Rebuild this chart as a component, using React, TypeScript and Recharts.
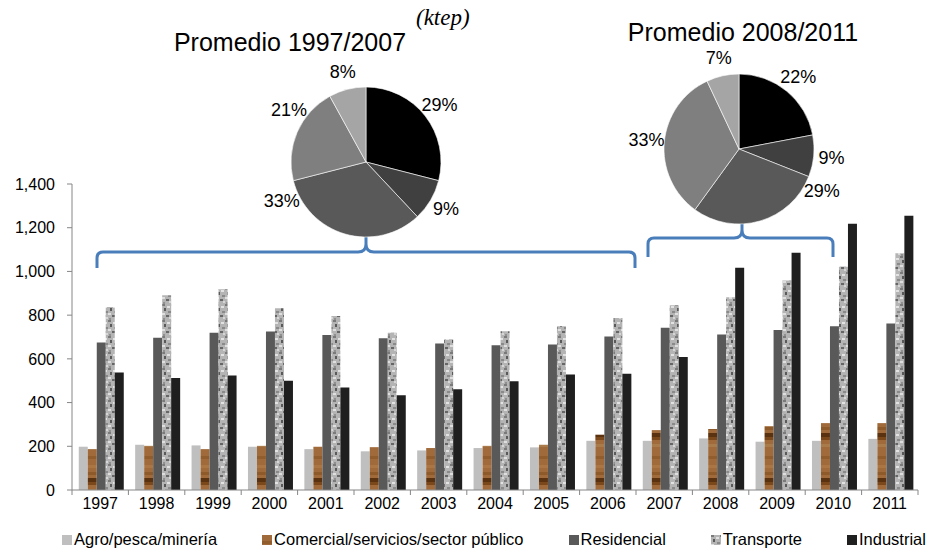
import React from "react"
import { BarChart, Bar, XAxis, YAxis, PieChart, Pie, Cell } from "recharts"

const years = ["1997", "1998", "1999", "2000", "2001", "2002", "2003", "2004", "2005", "2006", "2007", "2008", "2009", "2010", "2011"]
const agro = [198, 207, 204, 198, 187, 177, 181, 192, 195, 225, 225, 236, 221, 225, 234]
const comercial = [187, 202, 187, 202, 198, 196, 192, 202, 207, 253, 274, 279, 292, 306, 306]
const residencial = [675, 697, 719, 725, 709, 694, 670, 662, 666, 702, 742, 711, 732, 749, 762]
const transporte = [837, 891, 918, 831, 796, 719, 690, 726, 749, 787, 845, 882, 959, 1023, 1083]
const industrial = [538, 512, 524, 500, 469, 434, 461, 497, 528, 532, 609, 1017, 1086, 1218, 1255]
const yTicks = [0, 200, 400, 600, 800, 1000, 1200, 1400]

const pieSectors = ["Industrial", "Comercial", "Residencial", "Transporte", "Agro"]
const pie1Shares = [29, 9, 33, 21, 8]
const pie2Shares = [22, 9, 29, 33, 7]

const legendNames = ["Agro/pesca/minería", "Comercial/servicios/sector público", "Residencial", "Transporte", "Industrial"]

const data = years.map((year, i) => ({
  year,
  agro: agro[i],
  comercial: comercial[i],
  residencial: residencial[i],
  transporte: transporte[i],
  industrial: industrial[i],
}))

const FONT = "'Liberation Sans', Arial, sans-serif"
const W = 935
const H = 552
const LEFT = 72
const RIGHT = 17
const PLOT_BOTTOM = 490
const BAND = (W - LEFT - RIGHT) / years.length
const AXIS = "#868686"

const barFills = ["#bfbfbf", "url(#wood)", "#595959", "url(#marble)", "#1f1f1f"]
const pieColors: Record<string, string> = {
  Industrial: "#000000",
  Comercial: "#404040",
  Residencial: "#595959",
  Transporte: "#7f7f7f",
  Agro: "#a5a5a5",
}

const Patterns = () => (
  <svg width={0} height={0} style={{ position: "absolute" }}>
    <defs>
      <pattern id="wood" patternUnits="userSpaceOnUse" width={10} height={45}>
        <rect width={10} height={45} fill="#a06a3a" />
        <rect y={6} width={10} height={3} fill="#915d2d" />
        <rect y={15} width={10} height={3} fill="#ac7644" />
        <rect y={22} width={10} height={3} fill="#8e5a2a" />
        <rect y={28} width={10} height={4} fill="#5a3210" />
        <rect y={32} width={10} height={3} fill="#7b481c" />
        <rect y={39} width={10} height={3} fill="#a97a4a" />
      </pattern>
      <pattern id="marble" patternUnits="userSpaceOnUse" width={9} height={16}>
        <rect width={9} height={16} fill="#b4b4b4" />
        <rect x={0} y={0} width={3} height={2} fill="#7a7a7a" />
        <rect x={5} y={2} width={3} height={2} fill="#e2e2e2" />
        <rect x={2} y={4} width={2} height={3} fill="#5a5a5a" />
        <rect x={6} y={7} width={3} height={2} fill="#8a8a8a" />
        <rect x={0} y={9} width={3} height={2} fill="#dedede" />
        <rect x={4} y={11} width={3} height={2} fill="#666666" />
        <rect x={7} y={13} width={2} height={2} fill="#d6d6d6" />
        <rect x={1} y={14} width={2} height={2} fill="#909090" />
      </pattern>
    </defs>
  </svg>
)

const XTick = (props: any) => {
  const { x, y, payload, index } = props
  const last = index === years.length - 1
  return (
    <g>
      <line x1={x - BAND / 2} x2={x - BAND / 2} y1={PLOT_BOTTOM} y2={PLOT_BOTTOM + 5} stroke={AXIS} />
      {last && <line x1={x + BAND / 2} x2={x + BAND / 2} y1={PLOT_BOTTOM} y2={PLOT_BOTTOM + 5} stroke={AXIS} />}
      <text x={x} y={y} dy="0.71em" textAnchor="middle" fontSize={16} fontFamily={FONT} fill="#000">
        {payload.value}
      </text>
    </g>
  )
}

const RAD = Math.PI / 180

const makeLabel = (overrides: Record<string, number>) => (props: any) => {
  const { cx, cy, midAngle, outerRadius, name, value } = props
  const angle = overrides[name] ?? midAngle
  const r = outerRadius + 18
  const x = cx + r * Math.cos(-angle * RAD)
  const y = cy + r * Math.sin(-angle * RAD)
  return (
    <text x={x} y={y} textAnchor="middle" dominantBaseline="central" fontSize={18} fontFamily={FONT} fill="#000">
      {value}%
    </text>
  )
}

const SharePie = ({ shares, left, top, overrides }: { shares: number[]; left: number; top: number; overrides: Record<string, number> }) => {
  const pieData = pieSectors.map((name, i) => ({ name, value: shares[i] }))
  return (
    <div style={{ position: "absolute", left, top }}>
      <PieChart width={300} height={220}>
        <Pie
          data={pieData}
          dataKey="value"
          nameKey="name"
          cx={150}
          cy={110}
          outerRadius={75}
          startAngle={90}
          endAngle={-270}
          stroke="#ffffff"
          strokeWidth={0.6}
          label={makeLabel(overrides)}
          labelLine={false}
          isAnimationActive={false}
        >
          {pieData.map((d) => (
            <Cell key={d.name} fill={pieColors[d.name]} />
          ))}
        </Pie>
      </PieChart>
    </div>
  )
}

const Swatch = ({ fill }: { fill: string }) => (
  <svg width={10} height={10} style={{ marginRight: 2 }}>
    <rect width={10} height={10} fill={fill} />
  </svg>
)

const App = () => {
  return (
    <div style={{ position: "absolute", left: 0, top: 0, width: W, height: H, overflow: "hidden", background: "#fff", fontFamily: FONT }}>
      <Patterns />
      <BarChart
        width={W}
        height={H}
        data={data}
        margin={{ top: 184, right: RIGHT, left: 0, bottom: H - PLOT_BOTTOM - 30 }}
        barCategoryGap="12%"
        barGap={0}
      >
        <XAxis
          dataKey="year"
          interval={0}
          height={30}
          tickLine={false}
          tickSize={5}
          tickMargin={3}
          axisLine={{ stroke: AXIS }}
          tick={(p: any) => <XTick {...p} />}
        />
        <YAxis
          domain={[0, 1400]}
          ticks={yTicks}
          width={LEFT}
          tickSize={5}
          tickMargin={12}
          axisLine={{ stroke: AXIS }}
          tickLine={{ stroke: AXIS }}
          tickFormatter={(v: number) => v.toLocaleString("en-US")}
          tick={{ fill: "#000", fontSize: 16, fontFamily: FONT }}
        />
        <Bar dataKey="agro" fill={barFills[0]} isAnimationActive={false} />
        <Bar dataKey="comercial" fill={barFills[1]} isAnimationActive={false} />
        <Bar dataKey="residencial" fill={barFills[2]} isAnimationActive={false} />
        <Bar dataKey="transporte" fill={barFills[3]} isAnimationActive={false} />
        <Bar dataKey="industrial" fill={barFills[4]} isAnimationActive={false} />
      </BarChart>

      <svg width={W} height={H} style={{ position: "absolute", left: 0, top: 0, pointerEvents: "none" }}>
        <path
          d="M97,268 V258 Q97,252 103,252 H358 Q366,252 366,244 V236 V244 Q366,252 374,252 H629 Q635,252 635,258 V268"
          fill="none"
          stroke="#4a7ebb"
          strokeWidth={3}
        />
        <path
          d="M648,257 V244 Q648,238 654,238 H734 Q742,238 742,230 V218 V230 Q742,238 750,238 H827 Q833,238 833,244 V257"
          fill="none"
          stroke="#4a7ebb"
          strokeWidth={3}
        />
        <text x={290} y={51} textAnchor="middle" fontSize={25} fontFamily={FONT} fill="#000">
          Promedio 1997/2007
        </text>
        <text x={743} y={41} textAnchor="middle" fontSize={25} fontFamily={FONT} fill="#000">
          Promedio 2008/2011
        </text>
        <text x={416} y={25} fontSize={23} fontStyle="italic" fontFamily="'Liberation Serif', serif" fill="#000">
          (ktep)
        </text>
      </svg>

      <SharePie shares={pie1Shares} left={361 - 150} top={157 - 110} overrides={{ Residencial: 205, Transporte: 146 }} />
      <SharePie shares={pie2Shares} left={734 - 150} top={144 - 110} overrides={{ Residencial: -27 }} />

      <div
        style={{
          position: "absolute",
          left: 62,
          top: 530,
          display: "flex",
          alignItems: "center",
          gap: 45,
          fontSize: 16.5,
          color: "#000",
          whiteSpace: "nowrap",
        }}
      >
        {legendNames.map((n, i) => (
          <div key={n} style={{ display: "flex", alignItems: "center" }}>
            <Swatch fill={barFills[i]} />
            <span>{n}</span>
          </div>
        ))}
      </div>
    </div>
  )
}

export default App
